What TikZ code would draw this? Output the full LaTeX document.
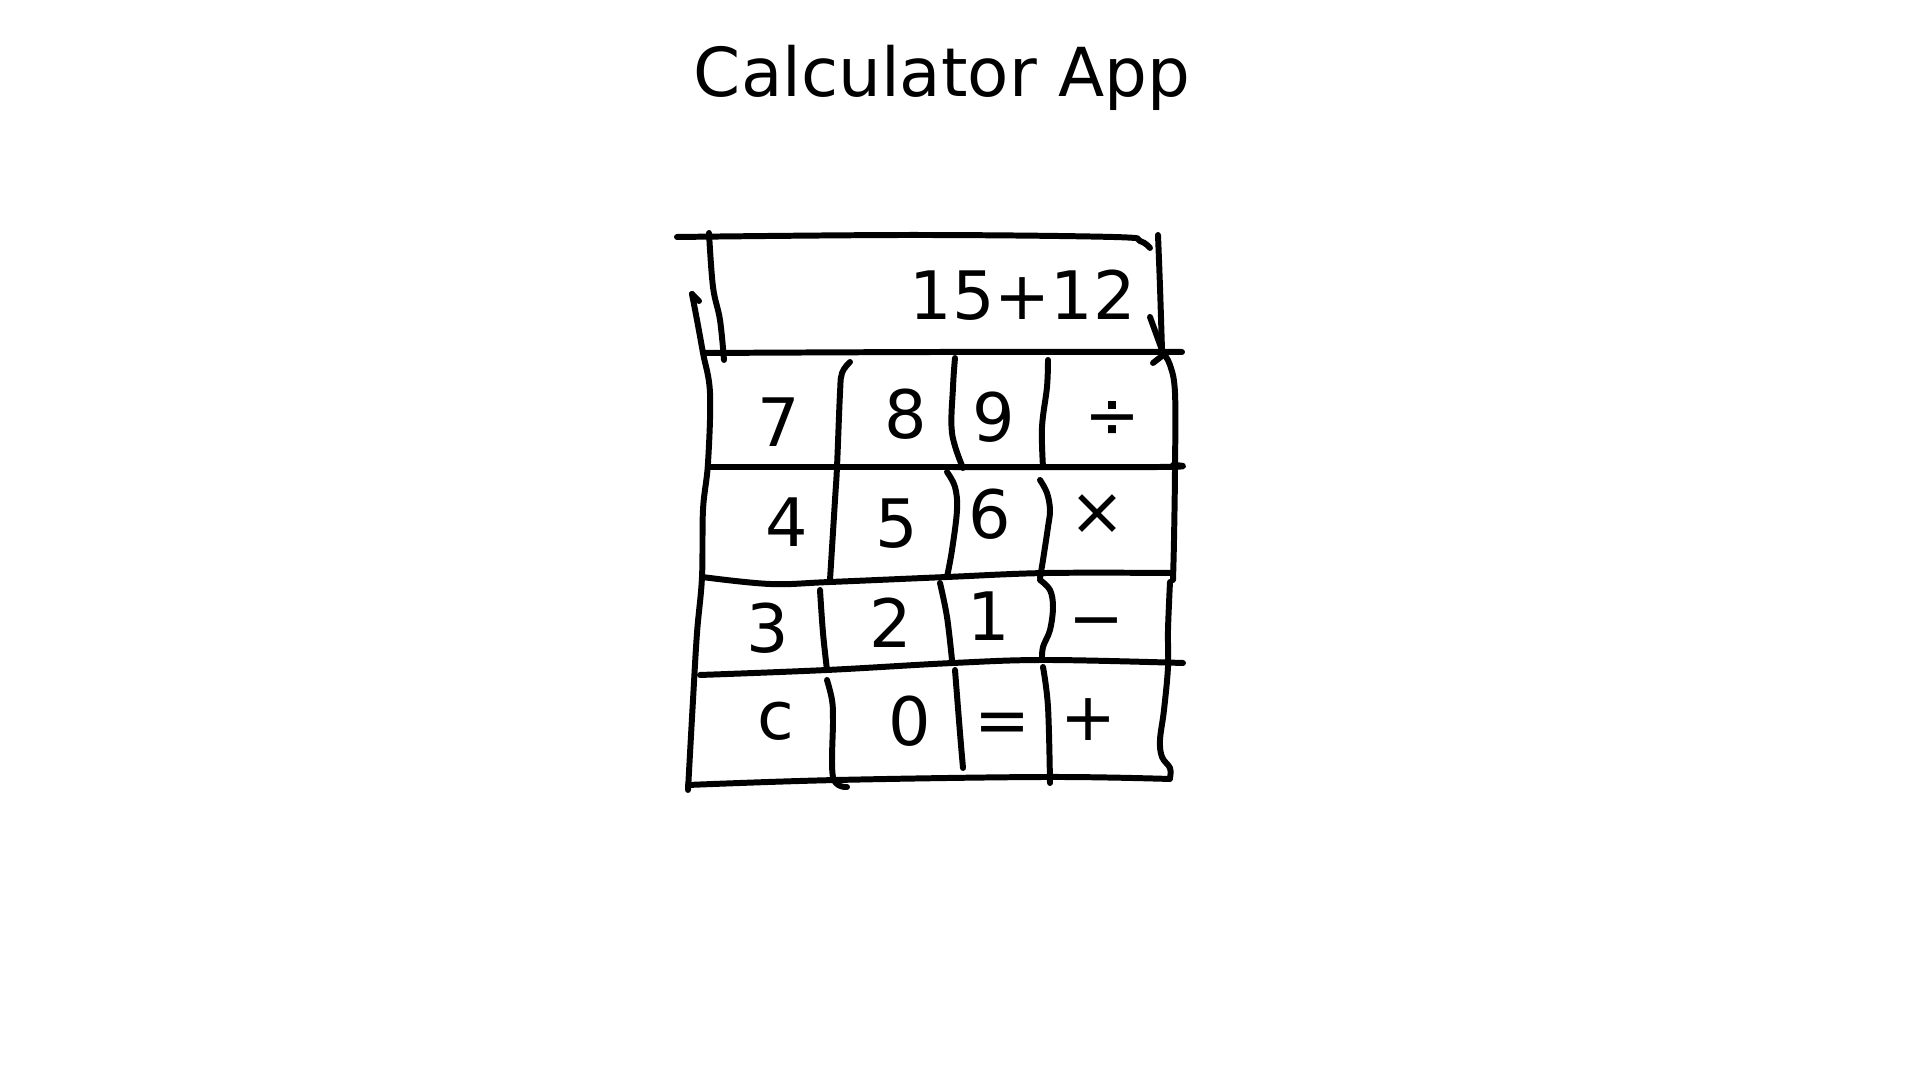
\documentclass[tikz,border=0pt]{standalone}
\usepackage{fontspec}
\setmainfont{DejaVu Sans}
\usepackage{xcolor}
\usetikzlibrary{positioning}
\tikzset{
  sketch/.style={draw=black, line width=1.7pt, line cap=round, line join=round},
  keylabel/.style={font=\fontsize{19}{19}\selectfont, inner sep=0pt, anchor=center},
  titlelabel/.style={font=\fontsize{19.2}{20}\selectfont, inner sep=0pt, anchor=base}
}

\begin{document}
\begin{tikzpicture}[x=0.01cm, y=-0.01cm]

  \useasboundingbox (0,0) rectangle (1920,1080);

  \node[titlelabel] (title) at (942,97) {Calculator App};

  % display
  \draw[sketch] plot[smooth, tension=0.6] coordinates {(677,237) (913,235) (1113,237) (1140,241) (1150,248)};
  \draw[sketch] plot[smooth, tension=0.6] coordinates {(709,233) (713,287) (720,320) (724,360)};
  \draw[sketch] plot[smooth, tension=0.6] coordinates {(1158,235) (1160,287) (1162,350)};
  \draw[sketch] (1150,317) -- (1162,350);
  \draw[sketch] (1153,363) -- (1162,356);
  \draw[sketch] plot[smooth, tension=0.6] coordinates {(705,353) (940,352) (1182,352)};

  \node[keylabel] (screen) at (1023,295) {15+12};

  % outer border
  \draw[sketch] (692,294) -- (699,301);
  \draw[sketch] plot[smooth, tension=0.6] coordinates {(692,294) (697,320) (703,353) (710,393)
    (708,463) (703,510) (702,577) (697,633) (693,700) (688,790)};
  \draw[sketch] plot[smooth, tension=0.6] coordinates {(1163,353) (1170,365) (1175,393)
    (1175,470) (1174,540) (1173,580)};
  \draw[sketch] plot[smooth, tension=0.6] coordinates {(1170,582) (1168,630) (1168,667)
    (1164,710) (1160,740) (1162,757) (1170,768) (1170,778)};

  % rows
  \draw[sketch] plot[smooth, tension=0.6] coordinates {(710,467) (913,467) (1160,467) (1173,465)};
  \draw[sketch] plot[smooth, tension=0.6] coordinates {(702,577) (770,584) (830,582) (947,577) (1047,573) (1173,573)};
  \draw[sketch] plot[smooth, tension=0.6] coordinates {(700,675) (827,670) (953,663) (1047,660) (1183,663)};
  \draw[sketch] plot[smooth, tension=0.6] coordinates {(688,785) (837,780) (1047,777) (1170,779)};

  % columns
  \draw[sketch] plot[smooth, tension=0.6] coordinates {(850,362) (842,373) (840,393) (837,467) (835,500) (830,580)};
  \draw[sketch] plot[smooth, tension=0.6] coordinates {(820,590) (823,633) (827,670)};
  \draw[sketch] plot[smooth, tension=0.6] coordinates {(827,680) (832,700) (833,720) (833,777) (847,787)};

  \draw[sketch] plot[smooth, tension=0.6] coordinates {(955,358) (953,387) (952,433) (963,468)};
  \draw[sketch] plot[smooth, tension=0.6] coordinates {(947,472) (955,487) (957,510) (952,550) (947,577)};
  \draw[sketch] plot[smooth, tension=0.6] coordinates {(940,583) (947,617) (952,660)};
  \draw[sketch] plot[smooth, tension=0.6] coordinates {(955,670) (960,733) (963,768)};

  \draw[sketch] plot[smooth, tension=0.6] coordinates {(1048,360) (1047,387) (1042,427) (1043,467)};
  \draw[sketch] plot[smooth, tension=0.6] coordinates {(1040,480) (1047,493) (1050,510) (1048,527) (1043,560) (1040,578)};
  \draw[sketch] plot[smooth, tension=0.6] coordinates {(1040,580) (1050,590) (1053,607) (1050,630) (1043,647) (1042,660)};
  \draw[sketch] plot[smooth, tension=0.6] coordinates {(1043,667) (1048,707) (1050,783)};

  % keys
  \node[keylabel] (key7) at (779,422) {7};
  \node[keylabel] (key8) at (906,414) {8};
  \node[keylabel] (key9) at (994,417) {9};
  \node[keylabel] (keydiv) at (1112,420) {÷};

  \node[keylabel] (key4) at (787,522) {4};
  \node[keylabel] (key5) at (897,524) {5};
  \node[keylabel] (key6) at (990,514) {6};
  \node[keylabel] (keymul) at (1097,515) {×};

  \node[keylabel] (key3) at (768,628) {3};
  \node[keylabel] (key2) at (891,623) {2};
  \node[keylabel] (key1) at (989,616) {1};
  \node[keylabel] (keyminus) at (1096,630) {−};

  \node[keylabel] (keyclear) at (776,721) {c};
  \node[keylabel] (key0) at (910,721) {0};
  \node[keylabel] (keyeq) at (1002,728) {=};
  \node[keylabel] (keyplus) at (1088,720) {+};

\end{tikzpicture}
\end{document}
